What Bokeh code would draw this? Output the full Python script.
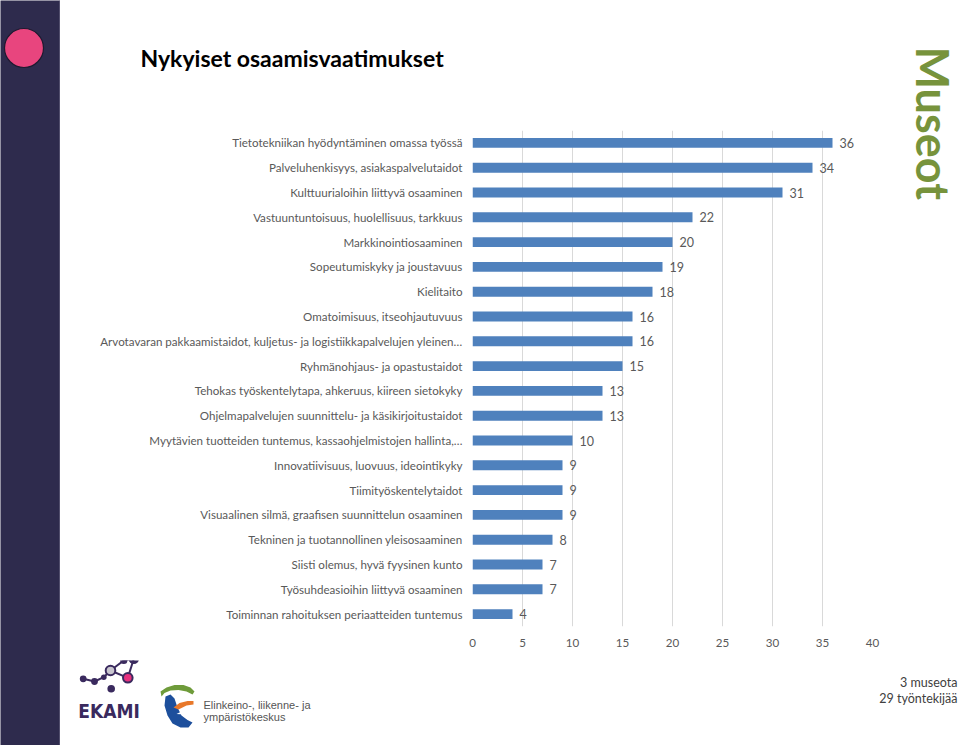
import numpy as np
from bokeh.plotting import figure
from bokeh.models import ColumnDataSource, Range1d, FactorRange, LabelSet, FixedTicker
from bokeh.layouts import row, column
from bokeh.core.properties import value
from bokeh.embed import file_html
from bokeh.resources import INLINE

# ---------------- data ----------------
categories = [
    "Tietotekniikan hyödyntäminen omassa työssä",
    "Palveluhenkisyys, asiakaspalvelutaidot",
    "Kulttuurialoihin liittyvä osaaminen",
    "Vastuuntuntoisuus, huolellisuus, tarkkuus",
    "Markkinointiosaaminen",
    "Sopeutumiskyky ja joustavuus",
    "Kielitaito",
    "Omatoimisuus, itseohjautuvuus",
    "Arvotavaran pakkaamistaidot, kuljetus- ja logistiikkapalvelujen yleinen…",
    "Ryhmänohjaus- ja opastustaidot",
    "Tehokas työskentelytapa, ahkeruus, kiireen sietokyky",
    "Ohjelmapalvelujen suunnittelu- ja käsikirjoitustaidot",
    "Myytävien tuotteiden tuntemus, kassaohjelmistojen hallinta,…",
    "Innovatiivisuus, luovuus, ideointikyky",
    "Tiimityöskentelytaidot",
    "Visuaalinen silmä, graafisen suunnittelun osaaminen",
    "Tekninen ja tuotannollinen yleisosaaminen",
    "Siisti olemus, hyvä fyysinen kunto",
    "Työsuhdeasioihin liittyvä osaaminen",
    "Toiminnan rahoituksen periaatteiden tuntemus",
]
values = [36, 34, 31, 22, 20, 19, 18, 16, 16, 15, 13, 13, 10, 9, 9, 9, 8, 7, 7, 4]
x_ticks = [0, 5, 10, 15, 20, 25, 30, 35, 40]

title_text = "Nykyiset osaamisvaatimukset"
side_text = "Museot"
note_lines = ["3 museota", "29 työntekijää"]
ely_lines = ["Elinkeino-, liikenne- ja", "ympäristökeskus"]
logo_text = "EKAMI"

FONT = "Lato"
GRAY = "#595959"
BAR = "#4F81BD"
NAVY = "#2E2B4D"
PURPLE = "#3A2A5E"

SIDE_X = 900      # left edge of the right-hand strip holding the vertical text
CHART_W = SIDE_X - 60


def deco(w, h, bg="white"):
    f = figure(width=w, height=h, x_range=Range1d(0, w), y_range=Range1d(h, 0),
               x_axis_type=None, y_axis_type=None, toolbar_location=None,
               output_backend="svg", min_border=0, outline_line_color=None,
               background_fill_color=bg, border_fill_color=bg)
    f.grid.visible = False
    f.frame_align = False
    return f


def txt(f, x, y, s, size, color, bold=False, align="left", font=FONT, angle=0.0):
    f.text(x=[x], y=[y], text=[s], text_font=value(font), text_font_size=value(size),
           text_color=color, text_font_style="bold" if bold else "normal",
           text_align=align, text_baseline="middle", angle=angle)


# ---------------- left strip ----------------
strip = deco(60, 745, NAVY)
strip.circle(x=[23.5], y=[47.5], radius=19.5, fill_color="#E8457E",
             line_color="#1E1A30", line_width=1.2)
strip.segment(x0=[59.5], y0=[0], x1=[59.5], y1=[745], line_color="#77758F", line_width=1)

# ---------------- top (title) ----------------
top = deco(CHART_W, 130)
txt(top, 80, 57, title_text, "23px", "#000000", bold=True)

# ---------------- side (vertical text) ----------------
side = deco(960 - SIDE_X, 660)
txt(side, 932 - SIDE_X, 46, side_text, "45px", "#77933C", bold=True, angle=-np.pi / 2)

# ---------------- chart ----------------
src = ColumnDataSource(dict(cat=categories, val=values, txt=[str(v) for v in values]))
p = figure(width=CHART_W, height=530, output_backend="svg", toolbar_location=None,
           x_range=Range1d(0, 40), y_range=FactorRange(factors=list(reversed(categories))),
           min_border_left=412, min_border_right=SIDE_X - 872, min_border_top=0,
           min_border_bottom=34,
           outline_line_color=None, background_fill_color="white", border_fill_color="white")
p.frame_align = False
p.hbar(y="cat", right="val", left=0, height=0.4, source=src, fill_color=BAR, line_color=None)
p.add_layout(LabelSet(x="val", y="cat", text="txt", source=src, x_offset=7,
                      text_align="left", text_baseline="middle", text_color=GRAY,
                      text_font=value(FONT), text_font_size=value("12.5px")))
p.ygrid.grid_line_color = None
p.xgrid.grid_line_color = "#D9D9D9"
p.xaxis.ticker = FixedTicker(ticks=x_ticks)
p.xaxis.minor_tick_line_color = None
for ax in (p.xaxis, p.yaxis):
    ax.axis_line_color = None
    ax.major_tick_line_color = None
    ax.major_tick_in = 0
    ax.major_tick_out = 0
    ax.major_label_text_color = GRAY
    ax.major_label_text_font = FONT
    ax.major_label_text_font_size = "11.6px"
p.yaxis.major_label_standoff = 10
p.xaxis.major_label_standoff = 12

# ---------------- bottom (logos + note) ----------------
bot = deco(900, 85)
ox, oy = 60, 660  # offset of this panel in the slide
# EKAMI logo
nodes = {"a": (82.7, 678.3), "b": (94, 681), "c": (103.3, 676.7), "g": (110, 670),
         "d": (123.3, 660), "e": (133.3, 658.3), "p": (127.3, 677.3), "f": (110.7, 688.3)}
links = [("a", "b"), ("b", "c"), ("c", "g"), ("g", "d"), ("d", "e"), ("e", "p"), ("g", "p")]
bot.segment(x0=[nodes[a][0] - ox for a, _ in links], y0=[nodes[a][1] - oy for a, _ in links],
            x1=[nodes[b][0] - ox for _, b in links], y1=[nodes[b][1] - oy for _, b in links],
            line_color=PURPLE, line_width=2)
dots = [("a", 3.4), ("b", 3.4), ("c", 2.8), ("d", 3.6), ("e", 5.2), ("f", 3.8)]
bot.circle(x=[nodes[k][0] - ox for k, _ in dots], y=[nodes[k][1] - oy for k, _ in dots],
           radius=[r for _, r in dots], fill_color=PURPLE, line_color=None)
bot.circle(x=[nodes["g"][0] - ox], y=[nodes["g"][1] - oy], radius=4.8,
           fill_color="#C9C6CF", line_color=PURPLE, line_width=2)
bot.circle(x=[nodes["p"][0] - ox], y=[nodes["p"][1] - oy], radius=4.8,
           fill_color="#E6317E", line_color=PURPLE, line_width=2)
txt(bot, 108.5 - ox, 710.5 - oy, logo_text, "19px", PURPLE, bold=True, align="center",
    font="DejaVu Sans Condensed")


# ELY logo
def patch(xs, ys, color):
    bot.patch(x=[x - ox for x in xs], y=[y - oy for y in ys], fill_color=color, line_color=None)


patch([160, 166, 174, 183, 190, 194, 192, 186, 178, 170, 164, 161],
      [691, 687, 684.5, 684.5, 687, 691, 694, 691, 689.5, 690, 692.5, 696], "#6E9B3A")
patch([165, 170, 174, 177, 181, 187, 192, 188, 180, 172, 167, 164],
      [696, 694, 698, 707, 715, 719.5, 722, 727, 727, 723, 715, 705], "#1D4F9C")
patch([173, 179, 187, 193, 193, 186, 178], [707, 702.5, 700.5, 700.5, 704, 705, 709], "#E8782A")
patch([176, 182, 189, 193, 192, 184], [713.5, 710.5, 709.5, 710, 712.5, 714], "#FFFFFF")
txt(bot, 203 - ox, 704.5 - oy, ely_lines[0], "11px", "#555555", font="Liberation Sans")
txt(bot, 203 - ox, 716 - oy, ely_lines[1], "11px", "#555555", font="Liberation Sans")

# note bottom right
txt(bot, 957 - ox, 682 - oy, note_lines[0], "12.5px", "#404040", align="right")
txt(bot, 957 - ox, 698 - oy, note_lines[1], "12.5px", "#404040", align="right")

layout = row(strip, column(row(column(top, p), side), bot))
open("out.html", "w").write(file_html(layout, INLINE))
